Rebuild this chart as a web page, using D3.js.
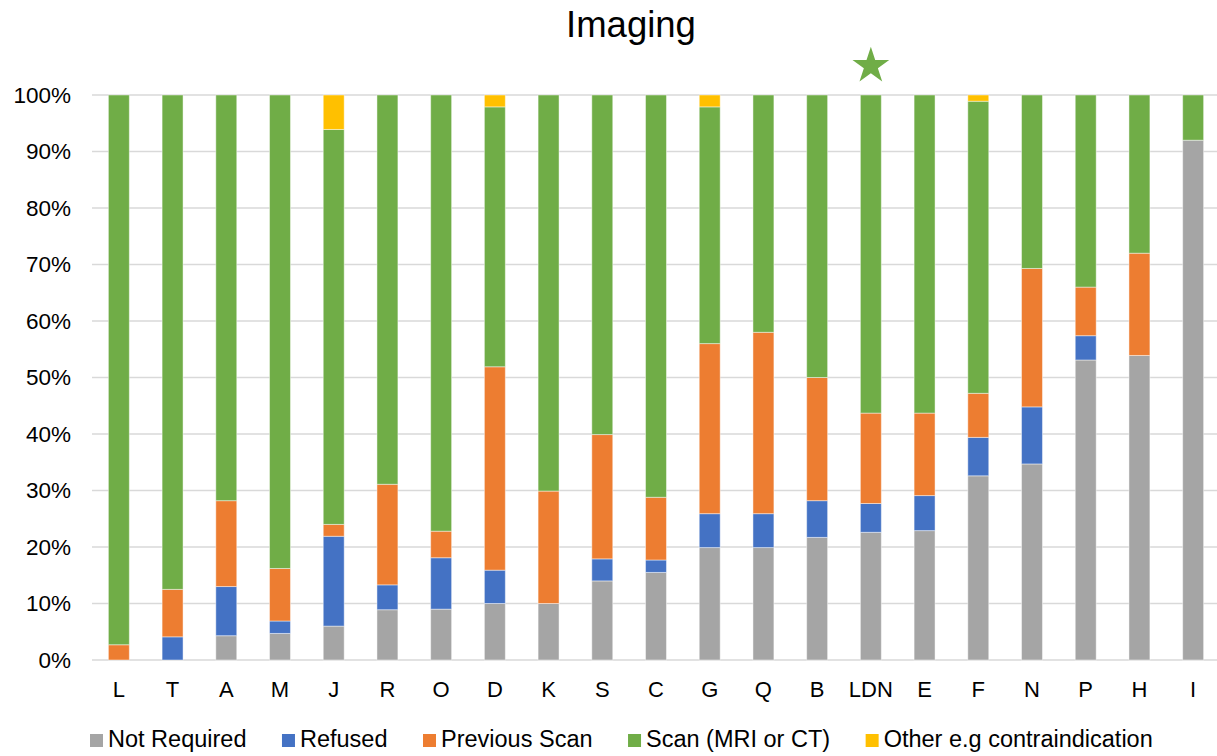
<!DOCTYPE html>
<html>
<head>
<meta charset="utf-8">
<script src="https://cdn.jsdelivr.net/npm/d3@7"></script>
<style>
  html, body { margin: 0; padding: 0; background: #fff; }
  svg { display: block; font-family: "Liberation Sans", Arial, sans-serif; }
</style>
</head>
<body>
<svg id="chart" width="1217" height="756"></svg>
<script>
const categories = ["L","T","A","M","J","R","O","D","K","S","C","G","Q","B","LDN","E","F","N","P","H","I"];
const seriesNames = ["Not Required","Refused","Previous Scan","Scan (MRI or CT)","Other e.g contraindication"];
const notRequired = [0,0,4.3,4.7,6.0,8.9,9.0,10.0,10.0,14.0,15.5,19.9,19.9,21.7,22.6,22.9,32.6,34.7,53.1,53.9,92.0];
const refused     = [0,4.1,8.7,2.2,15.9,4.4,9.1,5.9,0,3.9,2.2,6.0,6.0,6.5,5.1,6.2,6.8,10.1,4.3,0,0];
const previousScan= [2.7,8.4,15.2,9.3,2.1,17.8,4.7,36.0,19.9,22.0,11.1,30.1,32.1,21.8,16.0,14.6,7.8,24.5,8.6,18.1,0];
const scan        = [97.3,87.5,71.8,83.8,69.9,68.9,77.2,46.0,70.1,60.1,71.2,41.9,42.0,50.0,56.3,56.3,51.7,30.7,34.0,28.0,8.0];
const other       = [0,0,0,0,6.1,0,0,2.1,0,0,0,2.1,0,0,0,0,1.1,0,0,0,0];
const yTicks = [0,0.1,0.2,0.3,0.4,0.5,0.6,0.7,0.8,0.9,1.0];
const highlighted = "LDN";
const colors = ["#A5A5A5","#4472C4","#ED7D31","#70AD47","#FFC000"];

const seriesValues = [notRequired, refused, previousScan, scan, other];
const table = categories.map((c, i) => {
  const row = { cat: c };
  seriesNames.forEach((s, k) => { row[s] = seriesValues[k][i] / 100; });
  return row;
});

const svg = d3.select("#chart");
const x = d3.scaleBand().domain(categories).range([92, 1220]).paddingInner(0.61).paddingOuter(0.305);
const y = d3.scaleLinear().domain([0, 1]).range([660, 95]);
const color = d3.scaleOrdinal().domain(seriesNames).range(colors);

// gridlines
svg.append("g").selectAll("line").data(yTicks).join("line")
  .attr("x1", 92).attr("x2", 1217)
  .attr("y1", d => y(d)).attr("y2", d => y(d))
  .attr("stroke", "#D9D9D9").attr("stroke-width", 1.5);

// y axis labels
const yAxis = d3.axisLeft(y).tickValues(yTicks).tickFormat(d3.format(".0%")).tickSize(0).tickPadding(0);
const gy = svg.append("g").attr("transform", "translate(71,0)").call(yAxis);
gy.select(".domain").remove();
gy.selectAll("text").attr("font-size", 22.5).attr("fill", "#000").attr("font-family", "Liberation Sans, Arial, sans-serif");

// x axis labels
const xAxis = d3.axisBottom(x).tickSize(0).tickPadding(0);
const gx = svg.append("g").attr("transform", "translate(0,681)").call(xAxis);
gx.select(".domain").remove();
gx.selectAll("text").attr("font-size", 22).attr("fill", "#000").attr("dy", "0.71em").attr("font-family", "Liberation Sans, Arial, sans-serif");

// stacked bars
const stack = d3.stack().keys(seriesNames);
const stacked = stack(table);
svg.append("g").selectAll("g").data(stacked).join("g")
  .attr("fill", d => color(d.key))
  .selectAll("rect").data(d => d.filter(p => p[1] - p[0] > 0)).join("rect")
  .attr("x", d => x(d.data.cat))
  .attr("width", x.bandwidth())
  .attr("y", d => y(d[1]))
  .attr("height", d => y(d[0]) - y(d[1]))
  .attr("stroke", "rgba(255,255,255,0.45)")
  .attr("stroke-width", 1);

// star above highlighted category
const R = 19.3;
const starSize = (R * R) / 0.8908130915292852;
svg.append("path")
  .attr("d", d3.symbol(d3.symbolStar, starSize)())
  .attr("transform", `translate(${x(highlighted) + x.bandwidth() / 2},66)`)
  .attr("fill", "#70AD47");

// title
svg.append("text").attr("x", 631).attr("y", 37).attr("text-anchor", "middle")
  .attr("font-size", 36.5).attr("fill", "#000").text("Imaging");

// legend
const legend = svg.append("g").attr("transform", "translate(90,747)");
let lx = 0;
seriesNames.forEach((name, i) => {
  const g = legend.append("g").attr("transform", `translate(${lx},0)`);
  g.append("rect").attr("x", 0).attr("y", -13).attr("width", 13).attr("height", 13).attr("fill", colors[i]);
  const t = g.append("text").attr("x", 18).attr("y", 0).attr("font-size", 23.5).attr("fill", "#000").text(name);
  lx += 18 + t.node().getComputedTextLength() + 35.5;
});
</script>
</body>
</html>
